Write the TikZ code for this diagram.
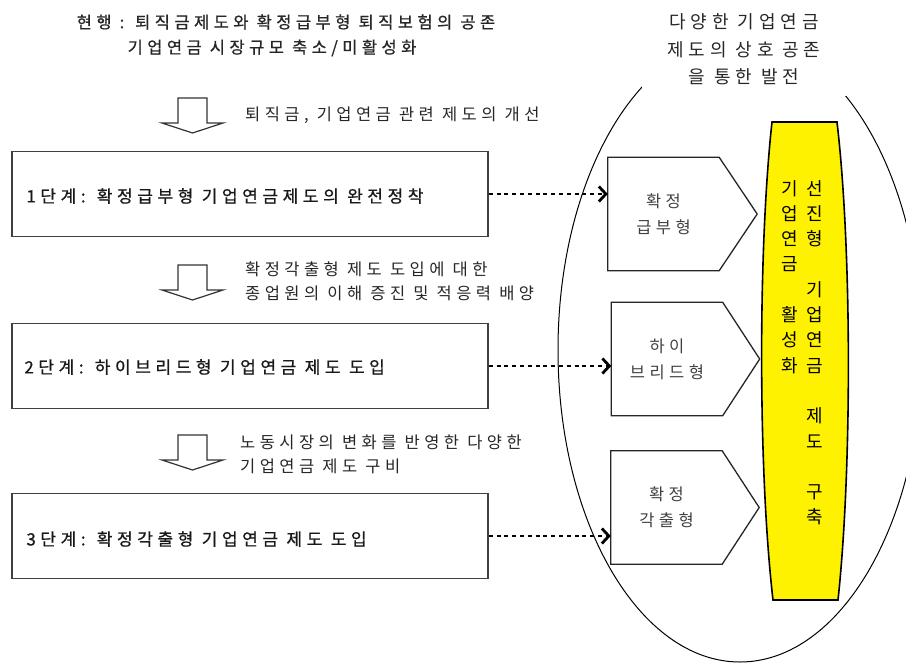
\documentclass[tikz,border=0pt]{standalone}
\usepackage{fontspec}
\newfontfamily\krfont[LetterSpace=27]{Noto Sans CJK KR}
\newfontfamily\krbold[LetterSpace=27,FakeBold=0.8]{Noto Sans CJK KR}
\newfontfamily\krplain{Noto Sans CJK KR}
\usetikzlibrary{arrows.meta}
\tikzset{
  note/.style={inner sep=0pt, text=black!85, font=\krfont\fontsize{16.5}{24}\selectfont},
  stagebox/.style={draw=black!75, line width=1.6pt, minimum width=476pt, minimum height=85pt},
  stagetext/.style={inner sep=0pt, anchor=west, text=black!90,
    font=\krbold\fontsize{17}{20}\selectfont},
  pentbody/.style={minimum width=111pt, minimum height=113pt, inner sep=0pt, align=center,
    text=black!75, font=\krfont\fontsize{16.5}{26}\selectfont},
  pentline/.style={draw=black!85, line width=1.3pt, line join=miter},
  hollow/.style={draw=black!80, line width=1.2pt, fill=white},
  link/.style={line width=2.8pt, dash pattern=on 4pt off 3.8pt,
    -{Straight Barb[length=7pt,width=15pt,line width=2.8pt]}},
  coltext/.style={inner sep=0pt, align=center, font=\krplain\fontsize{18}{25.3}\selectfont}
}
\begin{document}
\begin{tikzpicture}[x=1pt,y=-1pt]
  \useasboundingbox (0,0) rectangle (906,664);
  % outer ellipse and its heading
  \draw[line width=1pt] (740,350) ellipse [x radius=182, y radius=312];
  \node[note, fill=white, minimum width=204pt, minimum height=92pt, align=center,
    font=\krfont\fontsize{18}{27.5}\selectfont] (goal) at (744,49.5)
    {다양한 기업연금\\제도의 상호 공존\\을 통한 발전};

  % current state
  \node[note, font=\krbold\fontsize{16.5}{24}\selectfont] (now1) at (286,22)
    {현행 : 퇴직금제도와 확정급부형 퇴직보험의 공존};
  \node[note, font=\krbold\fontsize{16.5}{24}\selectfont] (now2) at (272,48)
    {기업연금 시장규모 축소/미활성화};

  % hollow down arrows
  \draw[hollow] (178,98) -- (207,98) -- (207,123) -- (223,123) -- (192.5,133)
    -- (162,123) -- (178,123) -- cycle;
  \draw[hollow] (178,265) -- (207,265) -- (207,290) -- (223,290) -- (192.5,300)
    -- (162,290) -- (178,290) -- cycle;
  \draw[hollow] (178,435) -- (207,435) -- (207,460) -- (223,460) -- (192.5,470)
    -- (162,460) -- (178,460) -- cycle;
  \node[note, anchor=west] (why1) at (245,115) {퇴직금, 기업연금 관련 제도의 개선};
  \node[note, anchor=west, align=left] (why2) at (245,281.5)
    {확정각출형 제도 도입에 대한\\종업원의 이해 증진 및 적응력 배양};
  \node[note, anchor=west, align=left] (why3) at (240,454)
    {노동시장의 변화를 반영한 다양한\\기업연금 제도 구비};

  % stages
  \node[stagebox] (stage1) at (250,194) {};
  \node[stagebox] (stage2) at (250,366) {};
  \node[stagebox] (stage3) at (250,536) {};
  \node[stagetext] (stage1text) at ([xshift=15pt,yshift=-2pt]stage1.west)
    {1단계: 확정급부형 기업연금제도의 완전정착};
  \node[stagetext] (stage2text) at ([xshift=13pt,yshift=-1pt]stage2.west)
    {2단계: 하이브리드형 기업연금 제도 도입};
  \node[stagetext] (stage3text) at ([xshift=15pt,yshift=-3pt]stage3.west)
    {3단계: 확정각출형 기업연금 제도 도입};

  % plan types
  \node[pentbody] (db) at (663.5,214) {확정\\급부형};
  \node[pentbody] (hybrid) at (667,359) {하이\\브리드형};
  \node[pentbody] (dc) at (666.5,507.5) {확정\\각출형};
  \draw[pentline] (db.north west) -- (db.north east) -- ([xshift=38pt]db.east)
    -- (db.south east) -- (db.south west) -- cycle;
  \draw[pentline] (hybrid.north west) -- (hybrid.north east) -- ([xshift=37pt]hybrid.east)
    -- (hybrid.south east) -- (hybrid.south west) -- cycle;
  \draw[pentline] (dc.north west) -- (dc.north east) -- ([xshift=37pt]dc.east)
    -- (dc.south east) -- (dc.south west) -- cycle;

  % dotted links
  \draw[link] (stage1.east) -- (stage1.east -| db.west);
  \draw[link] (stage2.east) -- (stage2.east -| hybrid.west);
  \draw[link] (stage3.east) -- (stage3.east -| dc.west);

  % yellow goal column
  \draw[line width=1.6pt, fill=yellow] (772,122) -- (837,122)
    .. controls (852,250) and (852,470) .. (838,600) -- (773,600)
    .. controls (758,470) and (758,250) .. (772,122) -- cycle;
  \node[coltext, anchor=north] (colA) at (790,180)
    {기\\업\\연\\금\\\mbox{}\\활\\성\\화};
  \node[coltext, anchor=north] (colB) at (815,180)
    {선\\진\\형\\\mbox{}\\기\\업\\연\\금\\\mbox{}\\제\\도\\\mbox{}\\구\\축};
\end{tikzpicture}
\end{document}
